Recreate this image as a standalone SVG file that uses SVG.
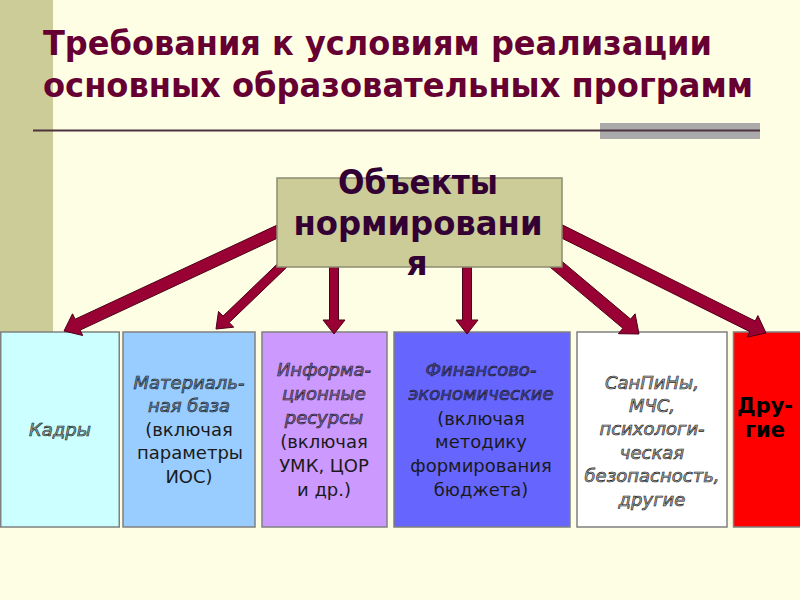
<svg xmlns="http://www.w3.org/2000/svg" width="800" height="600" viewBox="0 0 800 600">
<style>
.title{font-family:"DejaVu Sans","Liberation Sans",sans-serif;font-weight:bold;font-size:34px;fill:#660033}
.hub{font-family:"DejaVu Sans","Liberation Sans",sans-serif;font-weight:bold;font-size:33px;fill:#330033;text-anchor:middle}
.box{stroke:#808080;stroke-width:1.5}
.lbl{font-family:"DejaVu Sans","Liberation Sans",sans-serif;font-size:18px;text-anchor:middle;fill:#1a1a1a}
.emb{font-family:"DejaVu Sans","Liberation Sans",sans-serif;font-size:18px;font-style:italic;text-anchor:middle;fill:#000;fill-opacity:0.33;stroke:#1a1a1a;stroke-width:0.65}
.bold{font-family:"DejaVu Sans","Liberation Sans",sans-serif;font-size:21px;font-weight:bold;text-anchor:middle;fill:#000}
.arrow{fill:#990033;stroke:#4d0019;stroke-width:1}
</style>
<rect width="800" height="600" fill="#FEFEE4"/>
<rect x="0" y="0" width="53" height="400" fill="#CCCC99"/>
<g id="title">
<text class="title" x="43" y="55" textLength="669" lengthAdjust="spacingAndGlyphs">Требования к условиям реализации</text>
<text class="title" x="43" y="97" textLength="710" lengthAdjust="spacingAndGlyphs">основных образовательных программ</text>
<rect x="600" y="123" width="160" height="16" fill="#AAAAAA"/>
<line x1="33" y1="130.5" x2="760" y2="130.5" stroke="#4D3340" stroke-width="2"/>
</g>
<g id="kadry">
<rect class="box" x="0.75" y="332" width="118.5" height="195" fill="#CCFFFF"/>
<text class="emb" x="60" y="436">Кадры</text>
</g>
<g id="material">
<rect class="box" x="123" y="332" width="132" height="195" fill="#99CCFF"/>
<text class="emb" x="189" y="389">Материаль-</text>
<text class="emb" x="189" y="412">ная база</text>
<text class="lbl" x="189" y="436">(включая</text>
<text class="lbl" x="190" y="459">параметры</text>
<text class="lbl" x="189" y="483">ИОС)</text>
</g>
<g id="inform">
<rect class="box" x="262" y="332" width="125" height="195" fill="#CC99FF"/>
<text class="emb" x="324" y="376">Информа-</text>
<text class="emb" x="324" y="400">ционные</text>
<text class="emb" x="324" y="424">ресурсы</text>
<text class="lbl" x="324" y="448">(включая</text>
<text class="lbl" x="324" y="472">УМК, ЦОР</text>
<text class="lbl" x="324" y="496">и др.)</text>
</g>
<g id="finance">
<rect class="box" x="394" y="332" width="176" height="195" fill="#6666FF"/>
<text class="emb" x="481" y="376">Финансово-</text>
<text class="emb" x="481" y="400">экономические</text>
<text class="lbl" x="481" y="425">(включая</text>
<text class="lbl" x="481" y="448">методику</text>
<text class="lbl" x="481" y="472">формирования</text>
<text class="lbl" x="481" y="496">бюджета)</text>
</g>
<g id="sanpin">
<rect class="box" x="577" y="332" width="150" height="195" fill="#FFFFFF"/>
<text class="emb" x="652" y="389">СанПиНы,</text>
<text class="emb" x="652" y="412">МЧС,</text>
<text class="emb" x="652" y="435">психологи-</text>
<text class="emb" x="652" y="459">ческая</text>
<text class="emb" x="652" y="482">безопасность,</text>
<text class="emb" x="652" y="506">другие</text>
</g>
<g id="drugie">
<rect class="box" x="733.5" y="332" width="68" height="195" fill="#FF0000"/>
<text class="bold" x="765" y="413" textLength="56" lengthAdjust="spacingAndGlyphs">Дру-</text>
<text class="bold" x="765" y="437">гие</text>
</g>
<g id="connectors">
<polygon class="arrow" points="287.5,233.4 80.1,330.1 82.7,335.5 64,331 72.5,313.8 75.1,319.2 282.5,222.6"/>
<polygon class="arrow" points="295.1,259.2 229.2,322.5 233.7,327.2 216,329 218.5,311.4 223,316.1 288.9,252.8"/>
<polygon class="arrow" points="338.5,260 338.5,320 345,320 334,334 323,320 329.5,320 329.5,260"/>
<polygon class="arrow" points="471.5,260 471.5,320 478,320 467,334 456,320 462.5,320 462.5,260"/>
<polygon class="arrow" points="541.1,259.6 622.9,328.3 618.4,333.7 639,334 635.1,313.8 630.6,319.1 548.9,250.4"/>
<polygon class="arrow" points="552.3,233.4 749.9,331.7 747.2,337.1 766,333 757.9,315.6 755.2,321 557.7,222.6"/>
</g>
<g id="hub">
<rect x="277" y="178" width="285" height="89" fill="#CCCC99" stroke="#8C8C70" stroke-width="1.5"/>
<text class="hub" x="418" y="194" textLength="160" lengthAdjust="spacingAndGlyphs">Объекты</text>
<text class="hub" x="418" y="235" textLength="249" lengthAdjust="spacingAndGlyphs">нормировани</text>
<text class="hub" x="417" y="275">я</text>
</g>
</svg>
